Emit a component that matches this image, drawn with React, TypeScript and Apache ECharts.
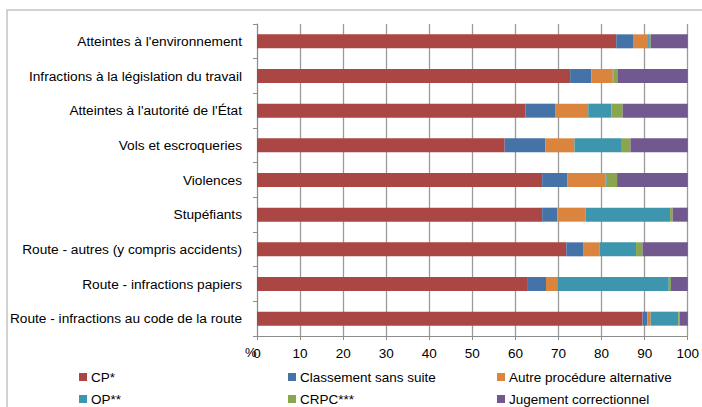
import React, { useEffect, useRef } from "react";
import * as echarts from "echarts";

const categories = [
  "Atteintes à l'environnement",
  "Infractions à la législation du travail",
  "Atteintes à l'autorité de l'État",
  "Vols et escroqueries",
  "Violences",
  "Stupéfiants",
  "Route - autres (y compris accidents)",
  "Route - infractions papiers",
  "Route - infractions au code de la route",
];

const cp = [83.4, 72.7, 62.3, 57.5, 66.2, 66.2, 71.8, 62.7, 89.5];
const classement = [3.9, 4.9, 6.9, 9.4, 5.8, 3.5, 3.9, 4.4, 1.1];
const autreProc = [3.5, 5.0, 7.7, 6.8, 8.9, 6.6, 3.8, 2.6, 0.8];
const op = [0.2, 0.1, 5.4, 11.0, 0.3, 19.6, 8.5, 25.9, 6.4];
const crpc = [0.4, 1.1, 2.6, 2.0, 2.4, 0.6, 1.5, 0.5, 0.3];
const jugement = [8.6, 16.2, 15.1, 13.3, 16.4, 3.5, 10.5, 3.9, 1.9];

const xTicks = { min: 0, max: 100, interval: 10 };

const seriesNames = [
  "CP*",
  "Classement sans suite",
  "Autre procédure alternative",
  "OP**",
  "CRPC***",
  "Jugement correctionnel",
];
const seriesData = [cp, classement, autreProc, op, crpc, jugement];
const colors = ["#AA4643", "#4572A7", "#DB843D", "#3D96AE", "#89A54E", "#71588F"];

const FONT = "Liberation Sans";

export default function App() {
  const ref = useRef<HTMLDivElement>(null);
  useEffect(() => {
    if (!ref.current) return;
    const chart = echarts.init(ref.current, undefined, { renderer: "svg" });
    const legendBase = {
      orient: "vertical" as const,
      itemWidth: 8,
      itemHeight: 8,
      itemGap: 8,
      icon: "rect",
      textStyle: { fontFamily: FONT, fontSize: 13.5, color: "#000", padding: [0, 0, 0, -1] },
      selectedMode: false,
      top: 370,
      padding: 0,
    };
    chart.setOption({
      animation: false,
      color: colors,
      grid: { left: 257, right: 13, top: 24, bottom: 71, containLabel: false },
      graphic: [
        {
          type: "rect",
          shape: { x: 7, y: 10, width: 900, height: 600 },
          style: { fill: "none", stroke: "#c4c4c4", lineWidth: 1.5 },
          silent: true,
        },
        {
          type: "text",
          left: 245,
          top: 346,
          style: { text: "%", fontFamily: FONT, fontSize: 13, fill: "#000" },
        },
      ],
      legend: [
        { ...legendBase, left: 79, data: [seriesNames[0], seriesNames[3]] },
        { ...legendBase, left: 288, data: [seriesNames[1], seriesNames[4]] },
        { ...legendBase, left: 497, data: [seriesNames[2], seriesNames[5]] },
      ],
      xAxis: {
        type: "value",
        min: xTicks.min,
        max: xTicks.max,
        interval: xTicks.interval,
        axisLine: { show: true, lineStyle: { color: "#8c8c8c", width: 1 } },
        axisTick: { show: true, length: 4, lineStyle: { color: "#8c8c8c" } },
        axisLabel: { fontFamily: FONT, fontSize: 13.5, color: "#000", margin: 10 },
        splitLine: { show: true, lineStyle: { color: "#9a9a9a", width: 1.3 } },
      },
      yAxis: {
        type: "category",
        inverse: true,
        data: categories,
        axisLine: { show: true, lineStyle: { color: "#8c8c8c", width: 1 } },
        axisTick: { show: true, length: 4, lineStyle: { color: "#8c8c8c" } },
        axisLabel: { fontFamily: FONT, fontSize: 13.7, color: "#000", margin: 15 },
        splitLine: { show: false },
      },
      series: seriesNames.map((name, i) => ({
        name,
        type: "bar",
        stack: "total",
        barWidth: 14,
        data: seriesData[i],
        itemStyle: { color: colors[i] },
      })),
    });
    return () => chart.dispose();
  }, []);
  return (
    <div
      ref={ref}
      style={{ position: "fixed", left: 0, top: 0, width: 702, height: 407, background: "#fff" }}
    />
  );
}
